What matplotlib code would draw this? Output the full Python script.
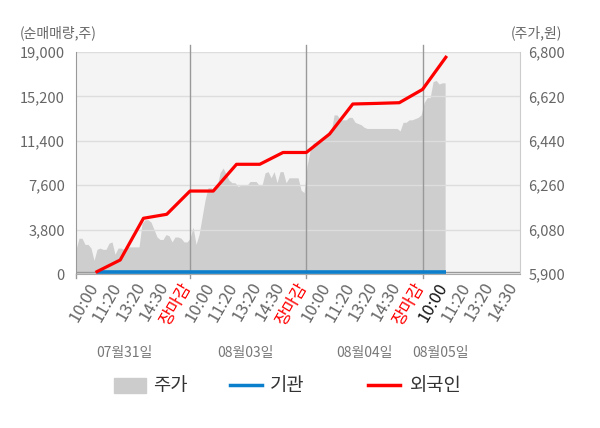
import matplotlib
matplotlib.use('Agg')
import matplotlib.pyplot as plt
import matplotlib.transforms as mtransforms
from matplotlib.patches import Rectangle
from matplotlib.lines import Line2D
import numpy as np

plt.rcParams['font.family'] = ['Noto Sans CJK KR', 'DejaVu Sans']

# x axis labels (one label every step of the time axis)
time_labels = ['10:00', '11:20', '13:20', '14:30', '장마감',
               '10:00', '11:20', '13:20', '14:30', '장마감',
               '10:00', '11:20', '13:20', '14:30', '장마감',
               '10:00', '11:20', '13:20', '14:30']
date_labels = ['07월31일', '08월03일', '08월04일', '08월05일']
date_pos = [1.2, 6.37, 11.5, 14.75]
close_idx = [4, 9, 14]

# cumulative net buying (shares), one value per labelled time
foreign = [200, 1200, 4770, 5110, 7100, 7100, 9390, 9390, 10400, 10400,
           11980, 14550, 14600, 14660, 15800, 18550]
inst = [150, 150, 150, 150, 150, 150, 150, 150, 150, 150,
        150, 150, 150, 150, 150, 150]

# intraday price (won), evenly sampled from the first trade to the last one
price = [6000, 6045, 6045, 6020, 6020, 6005, 5955, 6000, 6005, 6000,
         6000, 6025, 6030, 5980, 6005, 6005, 6000, 6010, 6010, 6010,
         6010, 6010, 6105, 6120, 6120, 6110, 6080, 6050, 6040, 6040,
         6060, 6055, 6030, 6050, 6050, 6045, 6030, 6030, 6045, 6090,
         6020, 6060, 6130, 6200, 6250, 6250, 6240, 6255, 6310, 6330,
         6305, 6280, 6270, 6270, 6255, 6260, 6260, 6260, 6275, 6275,
         6275, 6260, 6260, 6310, 6315, 6290, 6315, 6270, 6315, 6315,
         6270, 6290, 6290, 6290, 6290, 6240, 6230, 6340, 6400, 6430,
         6435, 6435, 6450, 6455, 6470, 6475, 6545, 6545, 6525, 6525,
         6525, 6535, 6535, 6515, 6510, 6505, 6495, 6490, 6490, 6490,
         6490, 6490, 6490, 6490, 6490, 6490, 6490, 6490, 6480, 6515,
         6515, 6525, 6525, 6530, 6535, 6545, 6595, 6615, 6615, 6680,
         6685, 6670, 6675, 6675]
price_start, price_end = -0.9, 14.97

left_ticks = [0, 3800, 7600, 11400, 15200, 19000]
right_ticks = [5900, 6080, 6260, 6440, 6620, 6800]

grey = '#666666'

fig = plt.figure(figsize=(6, 4.28), dpi=100)
ax2 = fig.add_axes([0.1267, 0.3598, 0.74, 0.5187])
ax2.set_facecolor('#f4f4f4')
ax = ax2.twinx()
ax2.yaxis.tick_right()
ax.yaxis.tick_left()

px = np.linspace(price_start, price_end, len(price))
ax2.fill_between(px, price, 5900, color='#cecece', lw=0)
ax2.set_ylim(5900, 6800)
ax2.set_yticks(right_ticks)
ax2.set_yticklabels([f'{v:,}' for v in right_ticks])
ax2.tick_params(axis='y', length=0, colors=grey, labelsize=10.5, pad=6)
for s in ax2.spines.values():
    s.set_visible(False)

ax2.set_xlim(-0.9, 18.19)
ax.set_ylim(0, 19000)
ax.set_yticks(left_ticks)
ax.set_yticklabels([f'{v:,}' for v in left_ticks])
ax.tick_params(axis='y', length=0, colors=grey, labelsize=10.5, pad=8)
ax.grid(axis='y', color='#dddddd', lw=1)
ax.set_axisbelow(True)

for c in close_idx:
    ax.axvline(c, ymin=0, ymax=1.03, color='#999999', lw=1, clip_on=False, zorder=1.5)
trans = mtransforms.blended_transform_factory(ax.transData, ax.transAxes)
for c in [-0.9] + close_idx:
    ax.plot([c, c], [0, -0.02], transform=trans, color='#999999', lw=1, clip_on=False)

ax.axhline(150, color='#999999', lw=1, zorder=1.8)
xi = np.arange(len(foreign))
ax.plot(xi, inst, color='#0b7fcb', lw=2.6, zorder=3, solid_capstyle='butt')
ax.plot(xi, foreign, color='#ff0000', lw=2.3, zorder=4)

# the visible x axis belongs to the price axes (twinx hides the other one)
ax2.set_xticks(range(len(time_labels)))
ax2.set_xticklabels(time_labels, rotation=60, ha='right', va='top',
                    rotation_mode='default', fontsize=12)
ax2.tick_params(axis='x', length=0, pad=4)
shift = mtransforms.ScaledTranslation(5 / 100, 0, fig.dpi_scale_trans)
for i, lab in enumerate(ax2.get_xticklabels()):
    lab.set_transform(lab.get_transform() + shift)
    if time_labels[i] == '장마감':
        lab.set_color('#ff0000')
    elif i == 15:
        lab.set_color('#111111')
    else:
        lab.set_color(grey)

ax.spines['top'].set_visible(False)
ax.spines['left'].set_color('#999999')
ax.spines['right'].set_color('#cccccc')
ax.spines['bottom'].set_color('#aaaaaa')

for d, p in zip(date_labels, date_pos):
    ax.text(p, -0.356, d, transform=trans, ha='center', va='center',
            fontsize=10, color='#777777')

fig.text(20 / 600, 1 - 33 / 428, '(순매매량,주)', ha='left', va='center',
         fontsize=10, color=grey)
fig.text(562 / 600, 1 - 33 / 428, '(주가,원)', ha='right', va='center',
         fontsize=10, color=grey)

# legend drawn by hand
ly = 1 - 385 / 428
fig.add_artist(Rectangle((114 / 600, 1 - 393 / 428), 32 / 600, 15 / 428,
                         transform=fig.transFigure, color='#cccccc'))
fig.text(153 / 600, ly, '주가', ha='left', va='center', fontsize=13.5, color='#333333')
fig.add_artist(Line2D([230 / 600, 262 / 600], [ly, ly], transform=fig.transFigure,
                      color='#0b7fcb', lw=2.5))
fig.text(270 / 600, ly, '기관', ha='left', va='center', fontsize=13.5, color='#333333')
fig.add_artist(Line2D([368 / 600, 400 / 600], [ly, ly], transform=fig.transFigure,
                      color='#ff0000', lw=2.5))
fig.text(410 / 600, ly, '외국인', ha='left', va='center', fontsize=13.5, color='#333333')

fig.savefig('out.png', dpi=100)
